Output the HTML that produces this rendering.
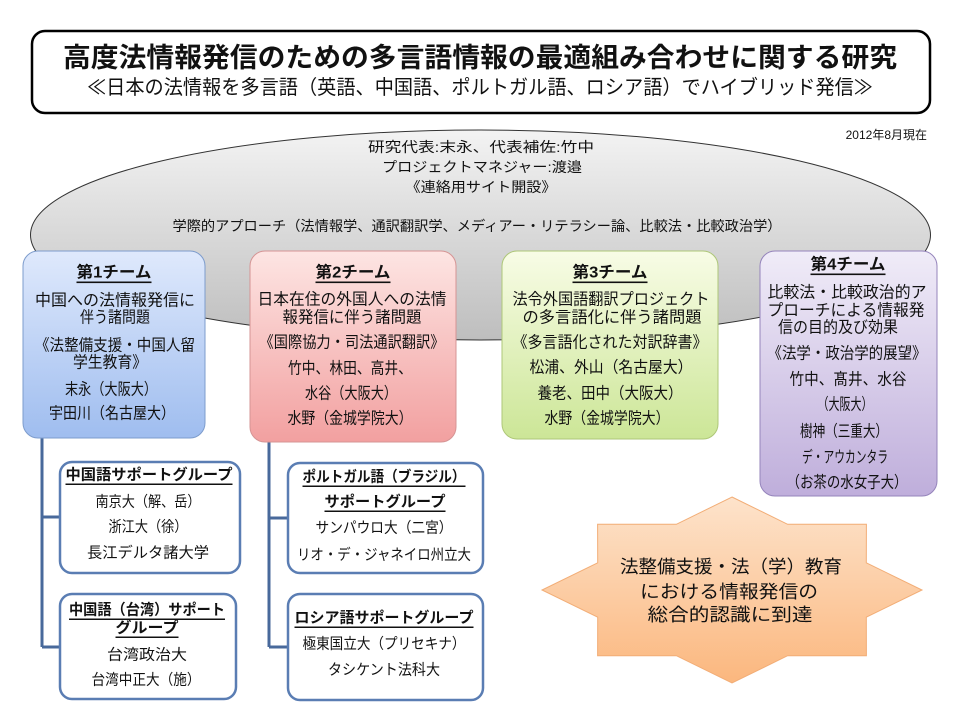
<!DOCTYPE html>
<html><head><meta charset="utf-8">
<style>
html,body{margin:0;padding:0;background:#fff;}
svg{display:block;}
text{font-family:"Liberation Sans","Noto Sans CJK JP",sans-serif;fill:#111;}
.c{text-anchor:middle;dominant-baseline:central;}
.b{font-weight:bold;text-decoration:underline;}
</style></head>
<body>
<svg width="960" height="720" viewBox="0 0 960 720" xmlns="http://www.w3.org/2000/svg">
<defs>
<linearGradient id="gE" x1="0" y1="0" x2="0" y2="1"><stop offset="0" stop-color="#f3f3f3"/><stop offset="1" stop-color="#bebebe"/></linearGradient>
<linearGradient id="g1" x1="0" y1="0" x2="0" y2="1"><stop offset="0" stop-color="#dfe9fc"/><stop offset="1" stop-color="#9fbdef"/></linearGradient>
<linearGradient id="g2" x1="0" y1="0" x2="0" y2="1"><stop offset="0" stop-color="#fde5e3"/><stop offset="1" stop-color="#f2a0a0"/></linearGradient>
<linearGradient id="g3" x1="0" y1="0" x2="0" y2="1"><stop offset="0" stop-color="#f8fce6"/><stop offset="1" stop-color="#cce697"/></linearGradient>
<linearGradient id="g4" x1="0" y1="0" x2="0" y2="1"><stop offset="0" stop-color="#f0ecf8"/><stop offset="1" stop-color="#bfaedb"/></linearGradient>
<linearGradient id="gS" x1="0" y1="0" x2="0" y2="1"><stop offset="0" stop-color="#fde3cb"/><stop offset="1" stop-color="#fbb77e"/></linearGradient>
</defs>

<!-- Title box -->
<rect x="32" y="31" width="898" height="82" rx="13" ry="13" fill="#fff" stroke="#000" stroke-width="2.5"/>
<text class="c" x="480" y="58" font-size="27" font-weight="bold" textLength="834" lengthAdjust="spacingAndGlyphs">高度法情報発信のための多言語情報の最適組み合わせに関する研究</text>
<text class="c" x="480" y="88" font-size="20" textLength="786" lengthAdjust="spacingAndGlyphs">≪日本の法情報を多言語（英語、中国語、ポルトガル語、ロシア語）でハイブリッド発信≫</text>

<text x="927" y="135" font-size="12" text-anchor="end" dominant-baseline="central">2012年8月現在</text>

<!-- Ellipse -->
<ellipse cx="480.5" cy="235" rx="450" ry="105" fill="url(#gE)" stroke="#333" stroke-width="1"/>
<text class="c" x="481" y="147" font-size="14" textLength="226" lengthAdjust="spacingAndGlyphs">研究代表:末永、代表補佐:竹中</text>
<text class="c" x="482" y="167" font-size="14" textLength="200" lengthAdjust="spacingAndGlyphs">プロジェクトマネジャー:渡邉</text>
<text class="c" x="481" y="187" font-size="14" textLength="151" lengthAdjust="spacingAndGlyphs">《連絡用サイト開設》</text>
<text class="c" x="477" y="226" font-size="14" textLength="609" lengthAdjust="spacingAndGlyphs">学際的アプローチ（法情報学、通訳翻訳学、メディアー・リテラシー論、比較法・比較政治学）</text>

<!-- Connectors -->
<g stroke="#48699b" stroke-width="3" fill="none">
<path d="M42 437 V647 M42 517 H60 M42 647 H60"/>
<path d="M269 442 V647 M269 518 H288 M269 647 H288"/>
</g>

<!-- Team 1 -->
<rect x="23" y="251" width="182" height="187" rx="15" fill="url(#g1)" stroke="#7d9ccc" stroke-width="1"/>
<g font-size="16">
<text class="c b" x="114" y="273" textLength="75" lengthAdjust="spacingAndGlyphs">第1チーム</text>
<text class="c" x="115" y="301" textLength="160" lengthAdjust="spacingAndGlyphs">中国への法情報発信に</text>
<text class="c" x="115" y="318" textLength="70" lengthAdjust="spacingAndGlyphs">伴う諸問題</text>
<text class="c" x="115" y="346" textLength="160" lengthAdjust="spacingAndGlyphs">《法整備支援・中国人留</text>
<text class="c" x="110" y="363" textLength="74" lengthAdjust="spacingAndGlyphs">学生教育》</text>
<text class="c" x="111" y="390" textLength="92" lengthAdjust="spacingAndGlyphs">末永（大阪大）</text>
<text class="c" x="112" y="414" textLength="126" lengthAdjust="spacingAndGlyphs">宇田川（名古屋大）</text>
</g>

<!-- Team 2 -->
<rect x="250" y="251" width="206" height="191" rx="15" fill="url(#g2)" stroke="#d59494" stroke-width="1"/>
<g font-size="16">
<text class="c b" x="353" y="273" textLength="75" lengthAdjust="spacingAndGlyphs">第2チーム</text>
<text class="c" x="352" y="300" textLength="189" lengthAdjust="spacingAndGlyphs">日本在住の外国人への法情</text>
<text class="c" x="352" y="318" textLength="139" lengthAdjust="spacingAndGlyphs">報発信に伴う諸問題</text>
<text class="c" x="352" y="343" textLength="185" lengthAdjust="spacingAndGlyphs">《国際協力・司法通訳翻訳》</text>
<text class="c" x="350" y="369" textLength="124" lengthAdjust="spacingAndGlyphs">竹中、林田、高井、</text>
<text class="c" x="351" y="394" textLength="92" lengthAdjust="spacingAndGlyphs">水谷（大阪大）</text>
<text class="c" x="350" y="419" textLength="125" lengthAdjust="spacingAndGlyphs">水野（金城学院大）</text>
</g>

<!-- Team 3 -->
<rect x="502" y="251" width="216" height="188" rx="15" fill="url(#g3)" stroke="#aec778" stroke-width="1"/>
<g font-size="16">
<text class="c b" x="610" y="273" textLength="75" lengthAdjust="spacingAndGlyphs">第3チーム</text>
<text class="c" x="611" y="300" textLength="197" lengthAdjust="spacingAndGlyphs">法令外国語翻訳プロジェクト</text>
<text class="c" x="612" y="318" textLength="179" lengthAdjust="spacingAndGlyphs">の多言語化に伴う諸問題</text>
<text class="c" x="610" y="343" textLength="195" lengthAdjust="spacingAndGlyphs">《多言語化された対訳辞書》</text>
<text class="c" x="611" y="368" textLength="163" lengthAdjust="spacingAndGlyphs">松浦、外山（名古屋大）</text>
<text class="c" x="610" y="394" textLength="145" lengthAdjust="spacingAndGlyphs">養老、田中（大阪大）</text>
<text class="c" x="607" y="419" textLength="125" lengthAdjust="spacingAndGlyphs">水野（金城学院大）</text>
</g>

<!-- Team 4 -->
<rect x="760" y="251" width="177" height="245" rx="15" fill="url(#g4)" stroke="#9584bb" stroke-width="1"/>
<g font-size="16">
<text class="c b" x="848" y="265" textLength="75" lengthAdjust="spacingAndGlyphs">第4チーム</text>
<text class="c" x="847" y="293" textLength="159" lengthAdjust="spacingAndGlyphs">比較法・比較政治的ア</text>
<text class="c" x="846" y="311" textLength="157" lengthAdjust="spacingAndGlyphs">プローチによる情報発</text>
<text class="c" x="838" y="328" textLength="120" lengthAdjust="spacingAndGlyphs">信の目的及び効果</text>
<text class="c" x="847" y="354" textLength="159" lengthAdjust="spacingAndGlyphs">《法学・政治学的展望》</text>
<text class="c" x="848" y="380" textLength="117" lengthAdjust="spacingAndGlyphs">竹中、髙井、水谷</text>
<text class="c" x="845" y="405" textLength="55" lengthAdjust="spacingAndGlyphs">（大阪大）</text>
<text class="c" x="844" y="432" textLength="88" lengthAdjust="spacingAndGlyphs">樹神（三重大）</text>
<text class="c" x="845" y="458" textLength="86" lengthAdjust="spacingAndGlyphs">デ・アウカンタラ</text>
<text class="c" x="847" y="483" textLength="121" lengthAdjust="spacingAndGlyphs">（お茶の水女子大）</text>
</g>

<!-- Support groups -->
<g fill="#fff" stroke="#5a7db3" stroke-width="2.5">
<rect x="60" y="462" width="180" height="111" rx="12"/>
<rect x="60" y="594" width="176" height="105" rx="12"/>
<rect x="288" y="463" width="195" height="110" rx="12"/>
<rect x="288" y="594" width="195" height="106" rx="12"/>
</g>
<g font-size="15">
<text class="c b" x="149" y="475" textLength="167" lengthAdjust="spacingAndGlyphs">中国語サポートグループ</text>
<text class="c" x="148" y="502" textLength="105" lengthAdjust="spacingAndGlyphs">南京大（解、岳）</text>
<text class="c" x="148" y="527" textLength="79" lengthAdjust="spacingAndGlyphs">浙江大（徐）</text>
<text class="c" x="148" y="553" textLength="122" lengthAdjust="spacingAndGlyphs">長江デルタ諸大学</text>

<text class="c b" x="147" y="610" textLength="156" lengthAdjust="spacingAndGlyphs">中国語（台湾）サポート</text>
<text class="c b" x="147" y="628" textLength="63" lengthAdjust="spacingAndGlyphs">グループ</text>
<text class="c" x="147" y="655" textLength="80" lengthAdjust="spacingAndGlyphs">台湾政治大</text>
<text class="c" x="146" y="680" textLength="109" lengthAdjust="spacingAndGlyphs">台湾中正大（施）</text>

<text class="c b" x="384" y="477" textLength="163" lengthAdjust="spacingAndGlyphs">ポルトガル語（ブラジル）</text>
<text class="c b" x="385" y="502" textLength="121" lengthAdjust="spacingAndGlyphs">サポートグループ</text>
<text class="c" x="384" y="528" textLength="137" lengthAdjust="spacingAndGlyphs">サンパウロ大（二宮）</text>
<text class="c" x="384" y="555" textLength="174" lengthAdjust="spacingAndGlyphs">リオ・デ・ジャネイロ州立大</text>

<text class="c b" x="384" y="618" textLength="179" lengthAdjust="spacingAndGlyphs">ロシア語サポートグループ</text>
<text class="c" x="384" y="644" textLength="163" lengthAdjust="spacingAndGlyphs">極東国立大（プリセキナ）</text>
<text class="c" x="384" y="670" textLength="112" lengthAdjust="spacingAndGlyphs">タシケント法科大</text>
</g>

<!-- Star -->
<polygon points="732,497 787.6,524.3 866.4,524.2 866.3,562.8 922,590 866.3,617.2 866.4,655.8 787.6,655.7 732,683 676.4,655.7 597.6,655.8 597.7,617.2 542,590 597.7,562.8 597.6,524.2 676.4,524.3" fill="url(#gS)" stroke="#f2ad76" stroke-width="1"/>
<g font-size="18">
<text class="c" x="731" y="567" textLength="222" lengthAdjust="spacingAndGlyphs">法整備支援・法（学）教育</text>
<text class="c" x="729" y="592" textLength="178" lengthAdjust="spacingAndGlyphs">における情報発信の</text>
<text class="c" x="730" y="615" textLength="165" lengthAdjust="spacingAndGlyphs">総合的認識に到達</text>
</g>
</svg>
</body></html>
